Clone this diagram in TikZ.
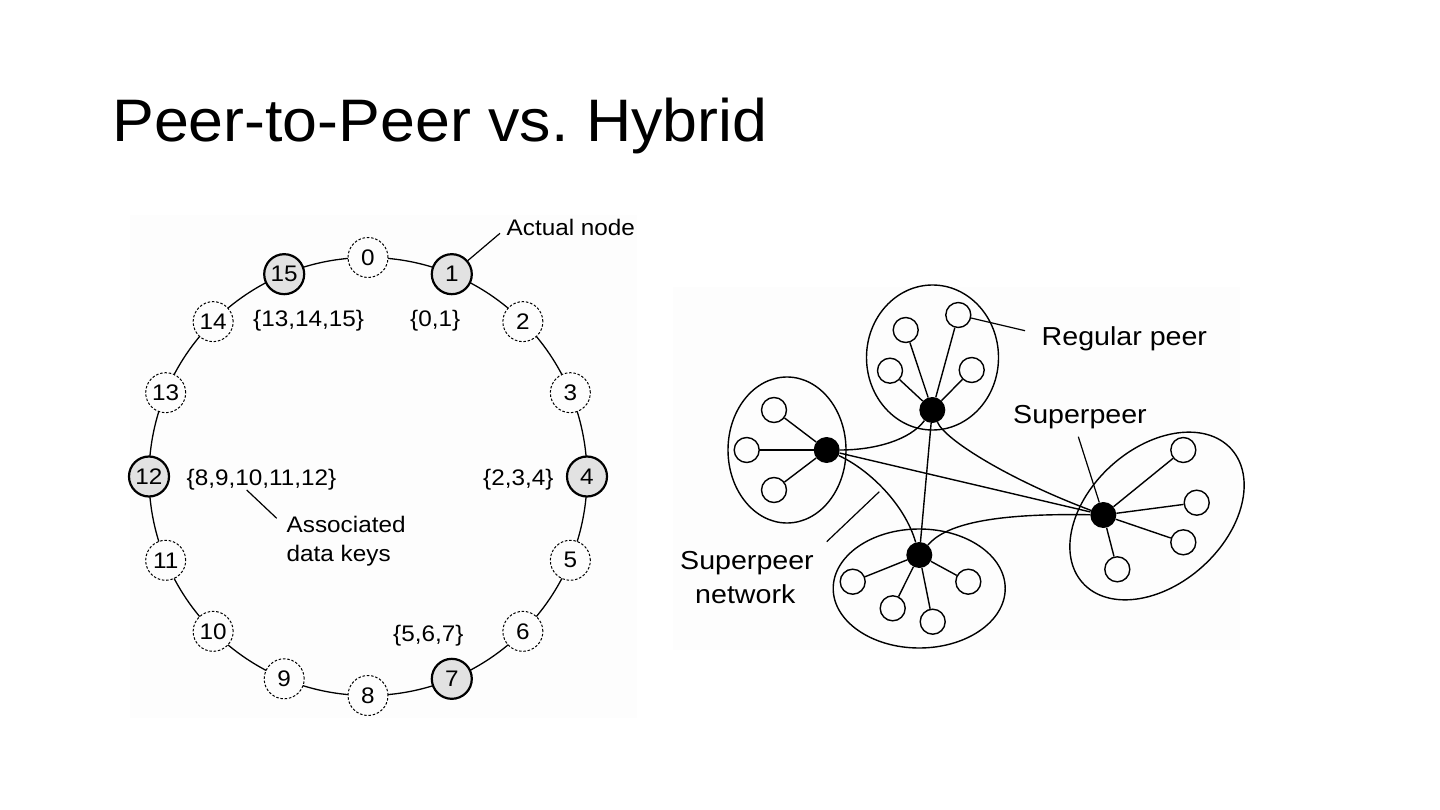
\documentclass[tikz,border=0pt]{standalone}
\usepackage{fontspec}
\setmainfont{Liberation Sans}
\newfontfamily\titlefont[FakeStretch=1.045]{Liberation Sans}
\newfontfamily\figfont[FakeStretch=1.08]{Liberation Sans}
\newfontfamily\netfont[FakeStretch=1.1]{Liberation Sans}
\usetikzlibrary{shapes.geometric}
\definecolor{panel}{HTML}{FDFDFD}
\definecolor{keyfill}{HTML}{E2E2E2}
\frenchspacing
\begin{document}
\begin{tikzpicture}[x=1pt,y=-1pt,
  ringfont/.style={font=\figfont\fontsize{22.5}{26}\selectfont},
  netlabel/.style={font=\netfont\fontsize{26}{30}\selectfont, anchor=base west, inner sep=0pt},
  keylabel/.style={ringfont, anchor=base west, inner sep=0pt},
  freenode/.style={circle, draw, line width=1pt, dash pattern=on 2.5pt off 1.8pt, fill=panel, minimum size=40pt, inner sep=0pt, ringfont},
  keynode/.style={circle, draw, line width=2.2pt, fill=keyfill, minimum size=40pt, inner sep=0pt, ringfont},
  ringline/.style={line width=1.3pt},
  leader/.style={line width=1.2pt},
  group/.style={ellipse, draw, line width=1.4pt, inner sep=0pt},
  peer/.style={circle, draw, line width=1.4pt, fill=panel, minimum size=25pt, inner sep=0pt},
  superpeer/.style={circle, fill=black, minimum size=26pt, inner sep=0pt},
  link/.style={line width=1.4pt}
]
\useasboundingbox (0,0) rectangle (1440,810);
\fill[white] (0,0) rectangle (1440,810);

% title
\node[anchor=base west, inner sep=0pt, font=\titlefont\fontsize{60}{72}\selectfont] (title) at (112,141.7) {Peer-to-Peer vs.\ Hybrid};

% panels
\fill[panel] (130,215) rectangle (637,718);
\fill[panel] (673,287) rectangle (1240,650);

% ---------- ring ----------
\draw[ringline] (368,476.5) circle[radius=219];
\foreach \k in {0,2,3,5,6,8,9,10,11,13,14}{
  \node[freenode] (r\k) at ({368+219*sin(\k*22.5)},{476.5-219*cos(\k*22.5)}) {\k};
}
\foreach \k in {1,4,7,12,15}{
  \node[keynode] (r\k) at ({368+219*sin(\k*22.5)},{476.5-219*cos(\k*22.5)}) {\k};
}
\node[keylabel] (lab1315) at (253,326.7) {\{13,14,15\}};
\node[keylabel] (lab01) at (410,326.7) {\{0,1\}};
\node[keylabel] (lab812) at (186.5,485) {\{8,9,10,11,12\}};
\node[keylabel] (lab234) at (483,485) {\{2,3,4\}};
\node[keylabel] (lab567) at (393,641.7) {\{5,6,7\}};
\node[keylabel] (actual) at (506.5,236) {Actual node};
\node[keylabel] (assoc) at (286.5,532.7) {Associated};
\node[keylabel] (datakeys) at (286.5,561) {data keys};
\coordinate (anEnd) at (500,233.3);
\draw[leader] (r1) -- (anEnd);
\coordinate (akA) at (246.7,490);
\coordinate (akB) at (276.7,518.3);
\draw[leader] (akA) -- (akB);

% ---------- superpeer network ----------
\node[group, minimum width=132pt, minimum height=145pt] (eT) at (932.5,357.5) {};
\node[group, minimum width=118pt, minimum height=146pt] (eL) at (787,450) {};
\node[group, minimum width=172pt, minimum height=119pt] (eB) at (919.2,588.5) {};
\node[group, minimum width=200pt, minimum height=136pt, rotate=42] (eR) at (1157,516) {};

\node[superpeer] (sT) at (932.3,410) {};
\node[superpeer] (sL) at (826.7,450) {};
\node[superpeer] (sB) at (919.3,555) {};
\node[superpeer] (sR) at (1103.3,515) {};

% peers
\node[peer] (pT1) at (905.7,330) {};
\node[peer] (pT2) at (958.3,315) {};
\node[peer] (pT3) at (890,370.7) {};
\node[peer] (pT4) at (971.7,370) {};
\node[peer] (pL1) at (774,410) {};
\node[peer] (pL2) at (746.7,450) {};
\node[peer] (pL3) at (774,490) {};
\node[peer] (pB1) at (852.7,581.7) {};
\node[peer] (pB2) at (892.7,608.3) {};
\node[peer] (pB3) at (932.7,621.7) {};
\node[peer] (pB4) at (968.3,581.7) {};
\node[peer] (pR1) at (1183.3,450) {};
\node[peer] (pR2) at (1196.7,502.7) {};
\node[peer] (pR3) at (1183.3,542.3) {};
\node[peer] (pR4) at (1117.3,569.3) {};

\foreach \p in {pT1,pT2,pT3,pT4}{\draw[link] (sT) -- (\p);}
\foreach \p in {pL1,pL2,pL3}{\draw[link] (sL) -- (\p);}
\foreach \p in {pB1,pB2,pB3,pB4}{\draw[link] (sB) -- (\p);}
\foreach \p in {pR1,pR2,pR3,pR4}{\draw[link] (sR) -- (\p);}

% superpeer links
\draw[link] (sL) .. controls (875,450) and (910,440) .. (sT);
\draw[link] (sL) .. controls (870,470) and (905,505) .. (sB);
\draw[link] (sL) -- (sR);
\draw[link] (sT) -- (sB);
\draw[link] (sT) .. controls (945,440) and (1010,480) .. (sR);
\draw[link] (sB) .. controls (945,525) and (990,513) .. (sR);

% labels
\node[netlabel] (regular) at (1041.5,345) {Regular peer};
\coordinate (rpEnd) at (1025,330.7);
\draw[leader] (pT2) -- (rpEnd);
\node[netlabel] (superlab) at (1013,423.3) {Superpeer};
\coordinate (spStart) at (1078.3,436.7);
\draw[leader] (spStart) -- (sR);
\node[netlabel] (snet1) at (680,569.3) {Superpeer};
\node[netlabel] (snet2) at (695,603.3) {network};
\coordinate (snA) at (826.7,541.7);
\coordinate (snB) at (879.3,491.7);
\draw[leader] (snA) -- (snB);
\end{tikzpicture}
\end{document}
